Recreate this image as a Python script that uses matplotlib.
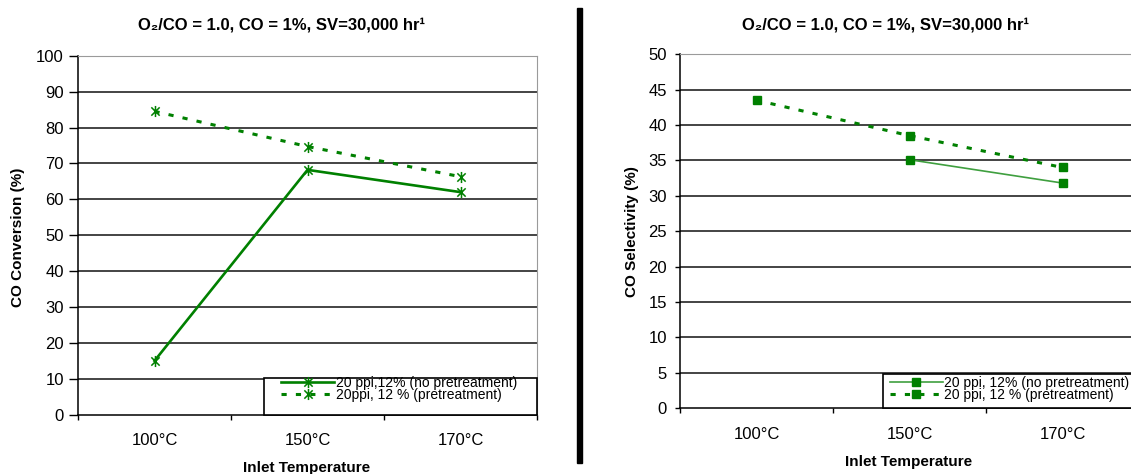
import matplotlib
matplotlib.use("Agg")
import matplotlib.pyplot as plt
import numpy as np
from matplotlib.patches import Rectangle
from matplotlib.path import Path

plt.rcParams['font.family'] = ['Liberation Sans', 'DejaVu Sans']

# ---- data -------------------------------------------------------------
temps = ['100°C', '150°C', '170°C']
conv_no_pre = [15.0, 68.2, 62.0]      # CO conversion, no pretreatment
conv_pre = [84.5, 74.7, 66.3]         # CO conversion, pretreatment
sel_no_pre = [np.nan, 35.1, 31.8]     # CO selectivity, no pretreatment
sel_pre = [43.5, 38.5, 34.0]          # CO selectivity, pretreatment

title = 'O\u2082/CO = 1.0, CO = 1%, SV=30,000 hr\u00b9'
lab_conv_no = '20 ppi,12% (no pretreatment)'
lab_conv_pre = '20ppi, 12 % (pretreatment)'
lab_sel_no = '20 ppi, 12% (no pretreatment)'
lab_sel_pre = '20 ppi, 12 % (pretreatment)'

GREEN = '#008000'
LIGHT_GREEN = '#3f9f3f'

W, H = 1131, 474
fig = plt.figure(figsize=(W / 100, H / 100), dpi=100)


def px_axes(x0, x1, ytop, ybot):
    return fig.add_axes([x0 / W, (H - ybot) / H, (x1 - x0) / W, (ybot - ytop) / H])


def style(ax, ymax, step, ticklen, pad, xpad):
    x = np.arange(len(temps))
    ax.set_xlim(-0.5, len(temps) - 0.5)
    ax.set_ylim(0, ymax)
    yt = np.arange(0, ymax + step / 2, step)
    ax.set_yticks(yt)
    for y in yt[1:-1]:
        ax.axhline(y, color='#111111', lw=1.1, zorder=0.5)
    ax.spines['top'].set_color('#9a9a9a')
    ax.spines['right'].set_color('#9a9a9a')
    ax.spines['left'].set_linewidth(1.1)
    ax.spines['bottom'].set_linewidth(1.1)
    ax.set_xticks(x)
    ax.set_xticklabels(temps)
    ax.set_xticks(np.arange(-0.5, len(temps)), minor=True)
    ax.tick_params(axis='x', which='major', length=0, pad=xpad, labelsize=12)
    ax.tick_params(axis='x', which='minor', length=3.6, width=1, direction='out')
    ax.tick_params(axis='y', length=ticklen, width=1, pad=pad, labelsize=12)


def legend(ax, box, anchor):
    # box: (x0, y0, w, h) of the legend frame in axes coordinates
    ax.add_patch(Rectangle(box[:2], box[2], box[3], transform=ax.transAxes,
                           facecolor='white', edgecolor='black', lw=1.2,
                           zorder=4, clip_on=False))
    leg = ax.legend(loc='center left', bbox_to_anchor=anchor, borderaxespad=0,
                    borderpad=0, frameon=False, fontsize=10, handlelength=3.8,
                    handletextpad=0.1, labelspacing=-0.15)
    leg.set_zorder(5)
    return leg


# asterisk marker: vertical bar plus two diagonals
star = Path([(0, -1), (0, 1), (-0.75, -0.75), (0.75, 0.75), (-0.75, 0.75), (0.75, -0.75)],
            [Path.MOVETO, Path.LINETO, Path.MOVETO, Path.LINETO, Path.MOVETO, Path.LINETO])

xs = np.arange(len(temps))

# ---- left: CO conversion ---------------------------------------------
ax1 = px_axes(78, 537, 55.7, 414.7)
style(ax1, 100, 10, 6.5, 3.6, 13.5)
ax1.plot(xs, conv_no_pre, color=GREEN, lw=1.9, marker=star, ms=8, mew=1.1,
         mec=GREEN, label=lab_conv_no, zorder=3)
ax1.plot(xs, conv_pre, color=GREEN, lw=2.2, ls=(0, (1.7, 3.0)), marker=star, ms=8,
         mew=1.1, mec=GREEN, label=lab_conv_pre, zorder=3)
legend(ax1, (0.405, 0.0, 0.595, 0.102), (0.443, 0.0716))

# ---- right: CO selectivity -------------------------------------------
ax2 = px_axes(680, 1139, 54.3, 408)
style(ax2, 50, 5, 3.6, 5.8, 14)
ax2.plot(xs, sel_no_pre, color=LIGHT_GREEN, lw=1.2, marker='s', ms=5.5,
         mfc=GREEN, mec=GREEN, label=lab_sel_no, zorder=3)
ax2.plot(xs, sel_pre, color=GREEN, lw=2.2, ls=(0, (1.7, 3.0)), marker='s', ms=5.5,
         mfc=GREEN, mec=GREEN, label=lab_sel_pre, zorder=3)
legend(ax2, (0.442, 0.0, 0.558, 0.096), (0.457, 0.054))

# ---- titles and axis labels --------------------------------------------
fig.text(281 / W, 1 - 25 / H, title, ha='center', va='center', fontsize=12, weight='bold')
fig.text(886 / W, 1 - 25 / H, title, ha='center', va='center', fontsize=12, weight='bold')
fig.text(18 / W, 1 - 237 / H, 'CO Conversion (%)', rotation=90, ha='center',
         va='center', fontsize=11, weight='bold')
fig.text(632 / W, 1 - 232 / H, 'CO Selectivity (%)', rotation=90, ha='center',
         va='center', fontsize=11, weight='bold')
fig.text(307 / W, 1 - 468 / H, 'Inlet Temperature', ha='center', va='center',
         fontsize=11, weight='bold')
fig.text(909 / W, 1 - 462 / H, 'Inlet Temperature', ha='center', va='center',
         fontsize=11, weight='bold')

# separator bar between the two panels
fig.add_artist(Rectangle((577 / W, (H - 463) / H), 5 / W, (463 - 8) / H,
                         transform=fig.transFigure, color='black'))

fig.savefig('out.png', dpi=100)
